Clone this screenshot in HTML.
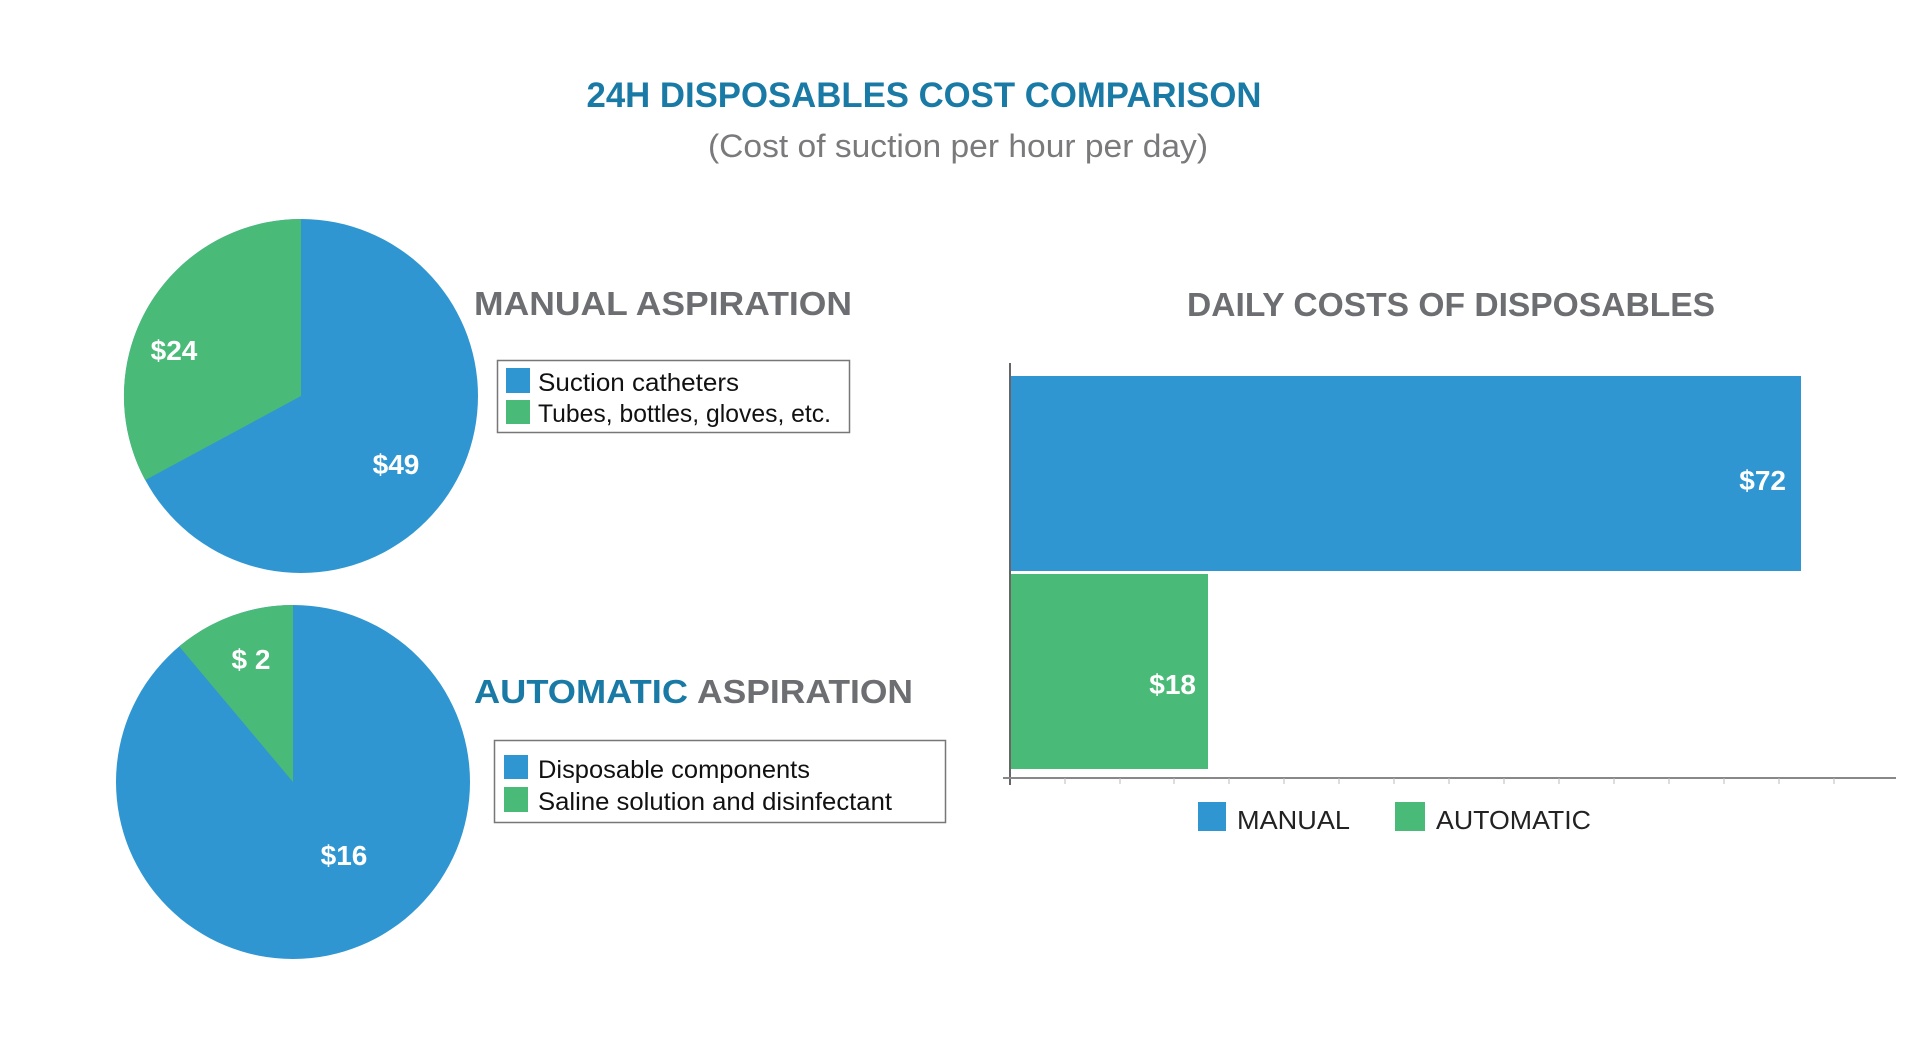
<!DOCTYPE html>
<html><head><meta charset="utf-8"><style>
html,body{margin:0;padding:0;background:#fff;}
svg{display:block;}
text{font-family:"Liberation Sans",sans-serif;}
</style></head><body>
<svg width="1920" height="1055" viewBox="0 0 1920 1055" xmlns="http://www.w3.org/2000/svg">
<rect width="1920" height="1055" fill="#fff"/>
<!-- titles -->
<text x="924" y="107" text-anchor="middle" font-size="35" font-weight="bold" fill="#1a7aa6" textLength="675" lengthAdjust="spacingAndGlyphs">24H DISPOSABLES COST COMPARISON</text>
<text x="958" y="157" text-anchor="middle" font-size="32" fill="#7a7a7c" textLength="500" lengthAdjust="spacingAndGlyphs">(Cost of suction per hour per day)</text>

<!-- pie 1 -->
<circle cx="301" cy="396" r="177" fill="#2f96d2"/>
<path d="M301,396 L301,219 A177,177 0 0 0 145.2,480.1 Z" fill="#4aba78"/>
<text x="174" y="360" text-anchor="middle" font-size="28" font-weight="bold" fill="#fff">$24</text>
<text x="396" y="474" text-anchor="middle" font-size="28" font-weight="bold" fill="#fff">$49</text>

<text x="474" y="315" font-size="33" font-weight="bold" fill="#6d6e71" textLength="378" lengthAdjust="spacingAndGlyphs">MANUAL ASPIRATION</text>
<rect x="497.5" y="360.5" width="352" height="72" fill="#fff" stroke="#777" stroke-width="1.5"/>
<rect x="506" y="368" width="24" height="25" fill="#2f96d2"/>
<rect x="506" y="400" width="24" height="24" fill="#4aba78"/>
<text x="538" y="391" font-size="25" fill="#111" textLength="201" lengthAdjust="spacingAndGlyphs">Suction catheters</text>
<text x="538" y="422" font-size="25" fill="#111" textLength="293" lengthAdjust="spacingAndGlyphs">Tubes, bottles, gloves, etc.</text>

<!-- pie 2 -->
<circle cx="293" cy="782" r="177" fill="#2f96d2"/>
<path d="M293,782 L293,605 A177,177 0 0 0 179.2,646.4 Z" fill="#4aba78"/>
<text x="251" y="669" text-anchor="middle" font-size="28" font-weight="bold" fill="#fff">$ 2</text>
<text x="344" y="865" text-anchor="middle" font-size="28" font-weight="bold" fill="#fff">$16</text>

<text x="474" y="703" font-size="33" font-weight="bold" fill="#1a7aa6" textLength="214" lengthAdjust="spacingAndGlyphs">AUTOMATIC</text>
<text x="697" y="703" font-size="33" font-weight="bold" fill="#6d6e71" textLength="216" lengthAdjust="spacingAndGlyphs">ASPIRATION</text>
<rect x="494.5" y="740.5" width="451" height="82" fill="#fff" stroke="#777" stroke-width="1.5"/>
<rect x="504" y="755" width="24" height="24" fill="#2f96d2"/>
<rect x="504" y="787" width="24" height="25" fill="#4aba78"/>
<text x="538" y="778" font-size="25" fill="#111" textLength="272" lengthAdjust="spacingAndGlyphs">Disposable components</text>
<text x="538" y="810" font-size="25" fill="#111" textLength="354" lengthAdjust="spacingAndGlyphs">Saline solution and disinfectant</text>

<!-- bar chart -->
<text x="1451" y="316" text-anchor="middle" font-size="33" font-weight="bold" fill="#6d6e71" textLength="528" lengthAdjust="spacingAndGlyphs">DAILY COSTS OF DISPOSABLES</text>
<rect x="1010" y="376" width="791" height="195" fill="#2f96d2"/>
<rect x="1010" y="574" width="198" height="195" fill="#4aba78"/>
<text x="1786" y="490" text-anchor="end" font-size="28" font-weight="bold" fill="#fff">$72</text>
<text x="1196" y="694" text-anchor="end" font-size="28" font-weight="bold" fill="#fff">$18</text>
<line x1="1010" y1="363" x2="1010" y2="785" stroke="#666" stroke-width="2"/>
<line x1="1003" y1="778" x2="1896" y2="778" stroke="#888" stroke-width="2"/>
<g stroke="#bbb" stroke-width="1">
<line x1="1065" y1="778" x2="1065" y2="784"/><line x1="1120" y1="778" x2="1120" y2="784"/><line x1="1174" y1="778" x2="1174" y2="784"/><line x1="1229" y1="778" x2="1229" y2="784"/><line x1="1284" y1="778" x2="1284" y2="784"/><line x1="1339" y1="778" x2="1339" y2="784"/><line x1="1394" y1="778" x2="1394" y2="784"/><line x1="1449" y1="778" x2="1449" y2="784"/><line x1="1504" y1="778" x2="1504" y2="784"/><line x1="1559" y1="778" x2="1559" y2="784"/><line x1="1614" y1="778" x2="1614" y2="784"/><line x1="1669" y1="778" x2="1669" y2="784"/><line x1="1724" y1="778" x2="1724" y2="784"/><line x1="1779" y1="778" x2="1779" y2="784"/><line x1="1834" y1="778" x2="1834" y2="784"/>
</g>
<rect x="1198" y="802" width="28" height="29" fill="#2f96d2"/>
<text x="1237" y="829" font-size="26" fill="#222" textLength="113" lengthAdjust="spacingAndGlyphs">MANUAL</text>
<rect x="1395" y="802" width="30" height="29" fill="#4aba78"/>
<text x="1436" y="829" font-size="26" fill="#222" textLength="155" lengthAdjust="spacingAndGlyphs">AUTOMATIC</text>
</svg>
</body></html>
